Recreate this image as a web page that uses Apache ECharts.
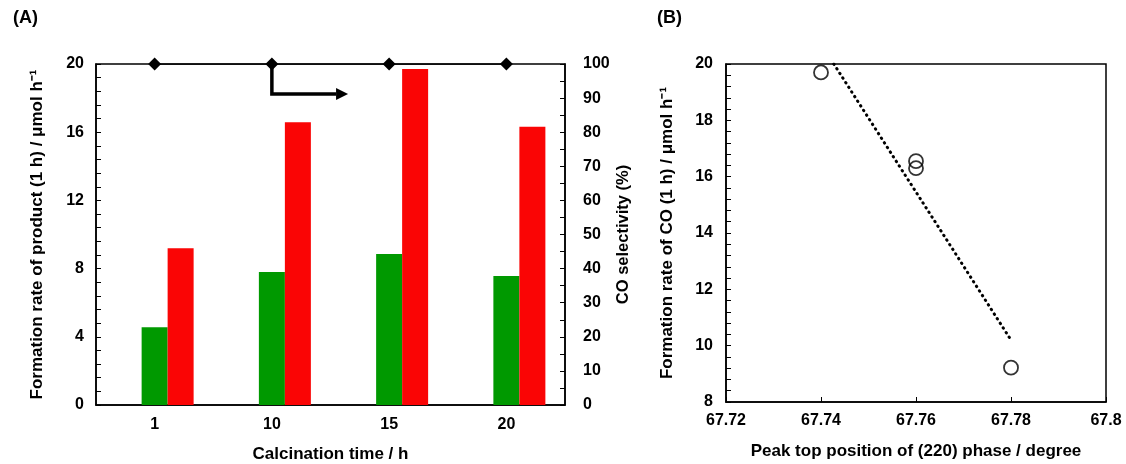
<!DOCTYPE html>
<html>
<head>
<meta charset="utf-8">
<script src="https://cdn.jsdelivr.net/npm/echarts@6/dist/echarts.min.js"></script>
<style>
  html, body { margin: 0; padding: 0; background: #fff; }
  #chart { width: 1126px; height: 464px; }
</style>
</head>
<body>
<div id="chart"></div>
<script>
// ── Data ─────────────────────────────────────────────────────────────────────
// Panel A: calcination time vs formation rates (left) and CO selectivity (right)
const calcTimes   = ['1', '10', '15', '20'];
const rateGreen   = [4.56, 7.8, 8.85, 7.56];
const rateRed     = [9.2, 16.58, 19.7, 16.32];
const selectivity = [100, 100, 100, 100];

// Panel B: (220) peak position vs CO formation rate
const peakPos   = [67.74, 67.76, 67.76, 67.78];
const coRate    = [19.7, 16.55, 16.3, 9.22];
const trendLine = [[67.7427, 20], [67.78, 10.2]];

// arrow pointing from the selectivity series to its axis (data units: category index, %)
const arrowPath = [[1, 100], [1, 91.2], [1.65, 91.2]];

// ── Styling helpers ──────────────────────────────────────────────────────────
const FONT = '"Liberation Sans", Arial, sans-serif';
const tickLabel = { color: '#000', fontFamily: FONT, fontWeight: 'bold', fontSize: 16 };
const axisTitle = { color: '#000', fontFamily: FONT, fontWeight: 'bold', fontSize: 17 };
const blackLine = { show: true, lineStyle: { color: '#000', width: 1.5 } };
const inTick    = { show: true, inside: true, length: 5, lineStyle: { color: '#000', width: 1 } };
const minor     = n => ({ show: true, splitNumber: n, length: 5, lineStyle: { color: '#000', width: 1 } });

const chart = echarts.init(document.getElementById('chart'), null, { renderer: 'canvas' });

chart.setOption({
  animation: false,
  backgroundColor: '#fff',
  title: [
    { text: '(A)', left: 8, top: 4, textStyle: { ...axisTitle, fontSize: 18 } },
    { text: '(B)', left: 652, top: 4, textStyle: { ...axisTitle, fontSize: 18 } },
  ],
  grid: [
    { left: 96, right: 561, top: 64, bottom: 59, show: true, borderColor: '#000', borderWidth: 1.5, outerBoundsMode: 'none' },
    { left: 726, right: 20, top: 64, bottom: 62, show: true, borderColor: '#000', borderWidth: 1.5, outerBoundsMode: 'none' },
  ],
  xAxis: [
    {
      type: 'category', gridIndex: 0, data: calcTimes,
      name: 'Calcination time / h', nameLocation: 'middle', nameGap: 41, nameMoveOverlap: false,
      nameTextStyle: axisTitle,
      axisLine: blackLine, axisTick: { show: false },
      axisLabel: { ...tickLabel, margin: 12 },
      splitLine: { show: false },
    },
    {
      type: 'value', gridIndex: 1, min: 67.72, max: 67.8, interval: 0.02,
      name: 'Peak top position of (220) phase / degree', nameLocation: 'middle', nameGap: 41, nameMoveOverlap: false,
      nameTextStyle: axisTitle,
      axisLine: blackLine, axisTick: inTick,
      axisLabel: { ...tickLabel, margin: 11, formatter: v => String(+v.toFixed(2)) },
      splitLine: { show: false },
    },
  ],
  yAxis: [
    {
      type: 'value', gridIndex: 0, min: 0, max: 20, interval: 4,
      name: 'Formation rate of product (1 h) / μmol h⁻¹', nameLocation: 'middle', nameGap: 50, nameMoveOverlap: false,
      nameTextStyle: axisTitle,
      axisLine: blackLine, axisTick: inTick, minorTick: minor(5),
      axisLabel: { ...tickLabel, margin: 12 },
      splitLine: { show: false }, minorSplitLine: { show: false },
    },
    {
      type: 'value', gridIndex: 0, position: 'right', min: 0, max: 100, interval: 10,
      name: 'CO selectivity (%)', nameLocation: 'middle', nameGap: 50, nameMoveOverlap: false,
      nameTextStyle: { ...axisTitle, fontSize: 16.5 },
      axisLine: blackLine, axisTick: inTick, minorTick: minor(2),
      axisLabel: { ...tickLabel, margin: 18 },
      splitLine: { show: false }, minorSplitLine: { show: false },
    },
    {
      type: 'value', gridIndex: 1, min: 8, max: 20, interval: 2,
      name: 'Formation rate of CO (1 h) / μmol h⁻¹', nameLocation: 'middle', nameGap: 50, nameMoveOverlap: false,
      nameTextStyle: axisTitle,
      axisLine: blackLine, axisTick: inTick, minorTick: minor(5),
      axisLabel: { ...tickLabel, margin: 13 },
      splitLine: { show: false }, minorSplitLine: { show: false },
    },
  ],
  series: [
    // empty leading slot so the green bar sits on the category centre
    { type: 'bar', name: 'spacer', xAxisIndex: 0, yAxisIndex: 0, data: calcTimes.map(() => null),
      barWidth: 26, barGap: '0%', silent: true },
    { type: 'bar', name: 'green', xAxisIndex: 0, yAxisIndex: 0, data: rateGreen,
      barWidth: 26, barGap: '0%', itemStyle: { color: '#009900' } },
    { type: 'bar', name: 'red', xAxisIndex: 0, yAxisIndex: 0, data: rateRed,
      barWidth: 26, barGap: '0%', itemStyle: { color: '#fa0505' } },
    { type: 'line', name: 'CO selectivity', xAxisIndex: 0, yAxisIndex: 1, data: selectivity,
      symbol: 'diamond', symbolSize: 13, lineStyle: { color: '#000', width: 1.5 },
      itemStyle: { color: '#000' }, z: 5 },
    { type: 'scatter', name: 'CO rate', xAxisIndex: 1, yAxisIndex: 2,
      data: peakPos.map((x, i) => [x, coRate[i]]),
      symbol: 'circle', symbolSize: 14,
      itemStyle: { color: 'rgba(255,255,255,0)', borderColor: '#000', borderWidth: 1.8 }, z: 4 },
    { type: 'line', name: 'trend', xAxisIndex: 1, yAxisIndex: 2, data: trendLine,
      showSymbol: false, symbol: 'none',
      lineStyle: { color: '#000', width: 3, type: [0.5, 5], cap: 'round' }, z: 3 },
  ],
});

// ── Arrow annotation (placed through the axes' own scales) ───────────────────
function toPx(pt) {
  const i = Math.floor(pt[0]);
  const a = chart.convertToPixel({ xAxisIndex: 0, yAxisIndex: 1 }, [i, pt[1]]);
  const b = chart.convertToPixel({ xAxisIndex: 0, yAxisIndex: 1 }, [i + 1, pt[1]]);
  return [a[0] + (b[0] - a[0]) * (pt[0] - i), a[1]];
}
const pts = arrowPath.map(toPx);
const tip = pts[pts.length - 1];
const headLen = 12, headHalf = 6;
const shaft = pts.slice(0, -1).concat([[tip[0] - headLen, tip[1]]]);

chart.setOption({
  graphic: [
    { type: 'polyline', z: 10, shape: { points: shaft },
      style: { stroke: '#000', lineWidth: 3.5, fill: null, lineJoin: 'miter' } },
    { type: 'polygon', z: 10,
      shape: { points: [[tip[0], tip[1]], [tip[0] - headLen, tip[1] - headHalf], [tip[0] - headLen, tip[1] + headHalf]] },
      style: { fill: '#000' } },
  ],
});
</script>
</body>
</html>
